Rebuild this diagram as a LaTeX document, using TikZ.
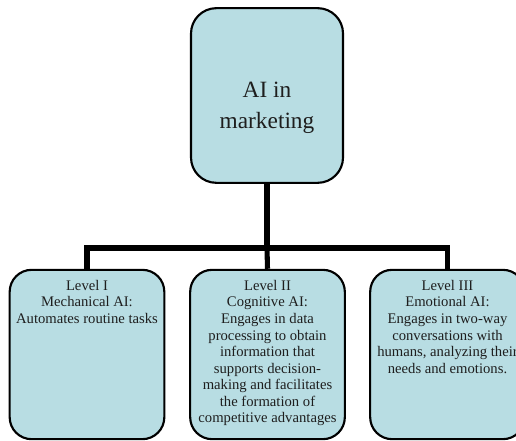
\documentclass[tikz,border=0pt]{standalone}
\usepackage{fontspec}
\setmainfont{Liberation Serif}
\definecolor{boxfill}{HTML}{B8DDE3}
\definecolor{txt}{HTML}{1E1E1E}
\begin{document}
\begin{tikzpicture}[x=0.75pt,y=-0.75pt,
  topbox/.style={draw=black, line width=1.6pt, fill=boxfill, rounded corners=19pt,
    minimum width=114pt, minimum height=131pt, inner sep=0pt},
  lvlbox/.style={draw=black, line width=1.6pt, fill=boxfill, rounded corners=16.5pt,
    minimum width=116pt, minimum height=127pt, inner sep=0pt},
  lbl/.style={align=center, inner sep=0pt, text=txt, font=\fontsize{11}{12.4}\selectfont},
  toplbl/.style={align=center, inner sep=0pt, text=txt, font=\fontsize{17.5}{23.5}\selectfont},
  conn/.style={draw=black, line width=3.8pt, line join=miter}]
\clip (0,0) rectangle (516,441);
\fill[white] (0,0) rectangle (516,441);
\node[topbox] (top) at (267,95.5) {};
\node[lvlbox] (b1) at (87,354.5) {};
\node[lvlbox] (b2) at (267.5,354.5) {};
\node[lvlbox] (b3) at (447.5,354.5) {};
\coordinate (j) at (267,248);
\draw[conn] (top.south) -- (j);
\draw[conn] (j) -- (b2.north);
\draw[conn] (b1.north) -- (b1.north |- j) -- (b3.north |- j) -- (b3.north);
\node[toplbl] (tt) at (267,108) {AI in\\marketing};
\node[lbl, anchor=north] (t1) at (87,280) {Level I\\Mechanical AI:\\Automates routine tasks};
\node[lbl, anchor=north] (t2) at (267.5,280) {Level II\\Cognitive AI:\\Engages in data\\processing to obtain\\information that\\supports decision-\\making and facilitates\\the formation of\\competitive advantages};
\node[lbl, anchor=north] (t3) at (447.5,280) {Level III\\Emotional AI:\\Engages in two-way\\conversations with\\humans, analyzing their\\needs and emotions.};
\end{tikzpicture}
\end{document}
